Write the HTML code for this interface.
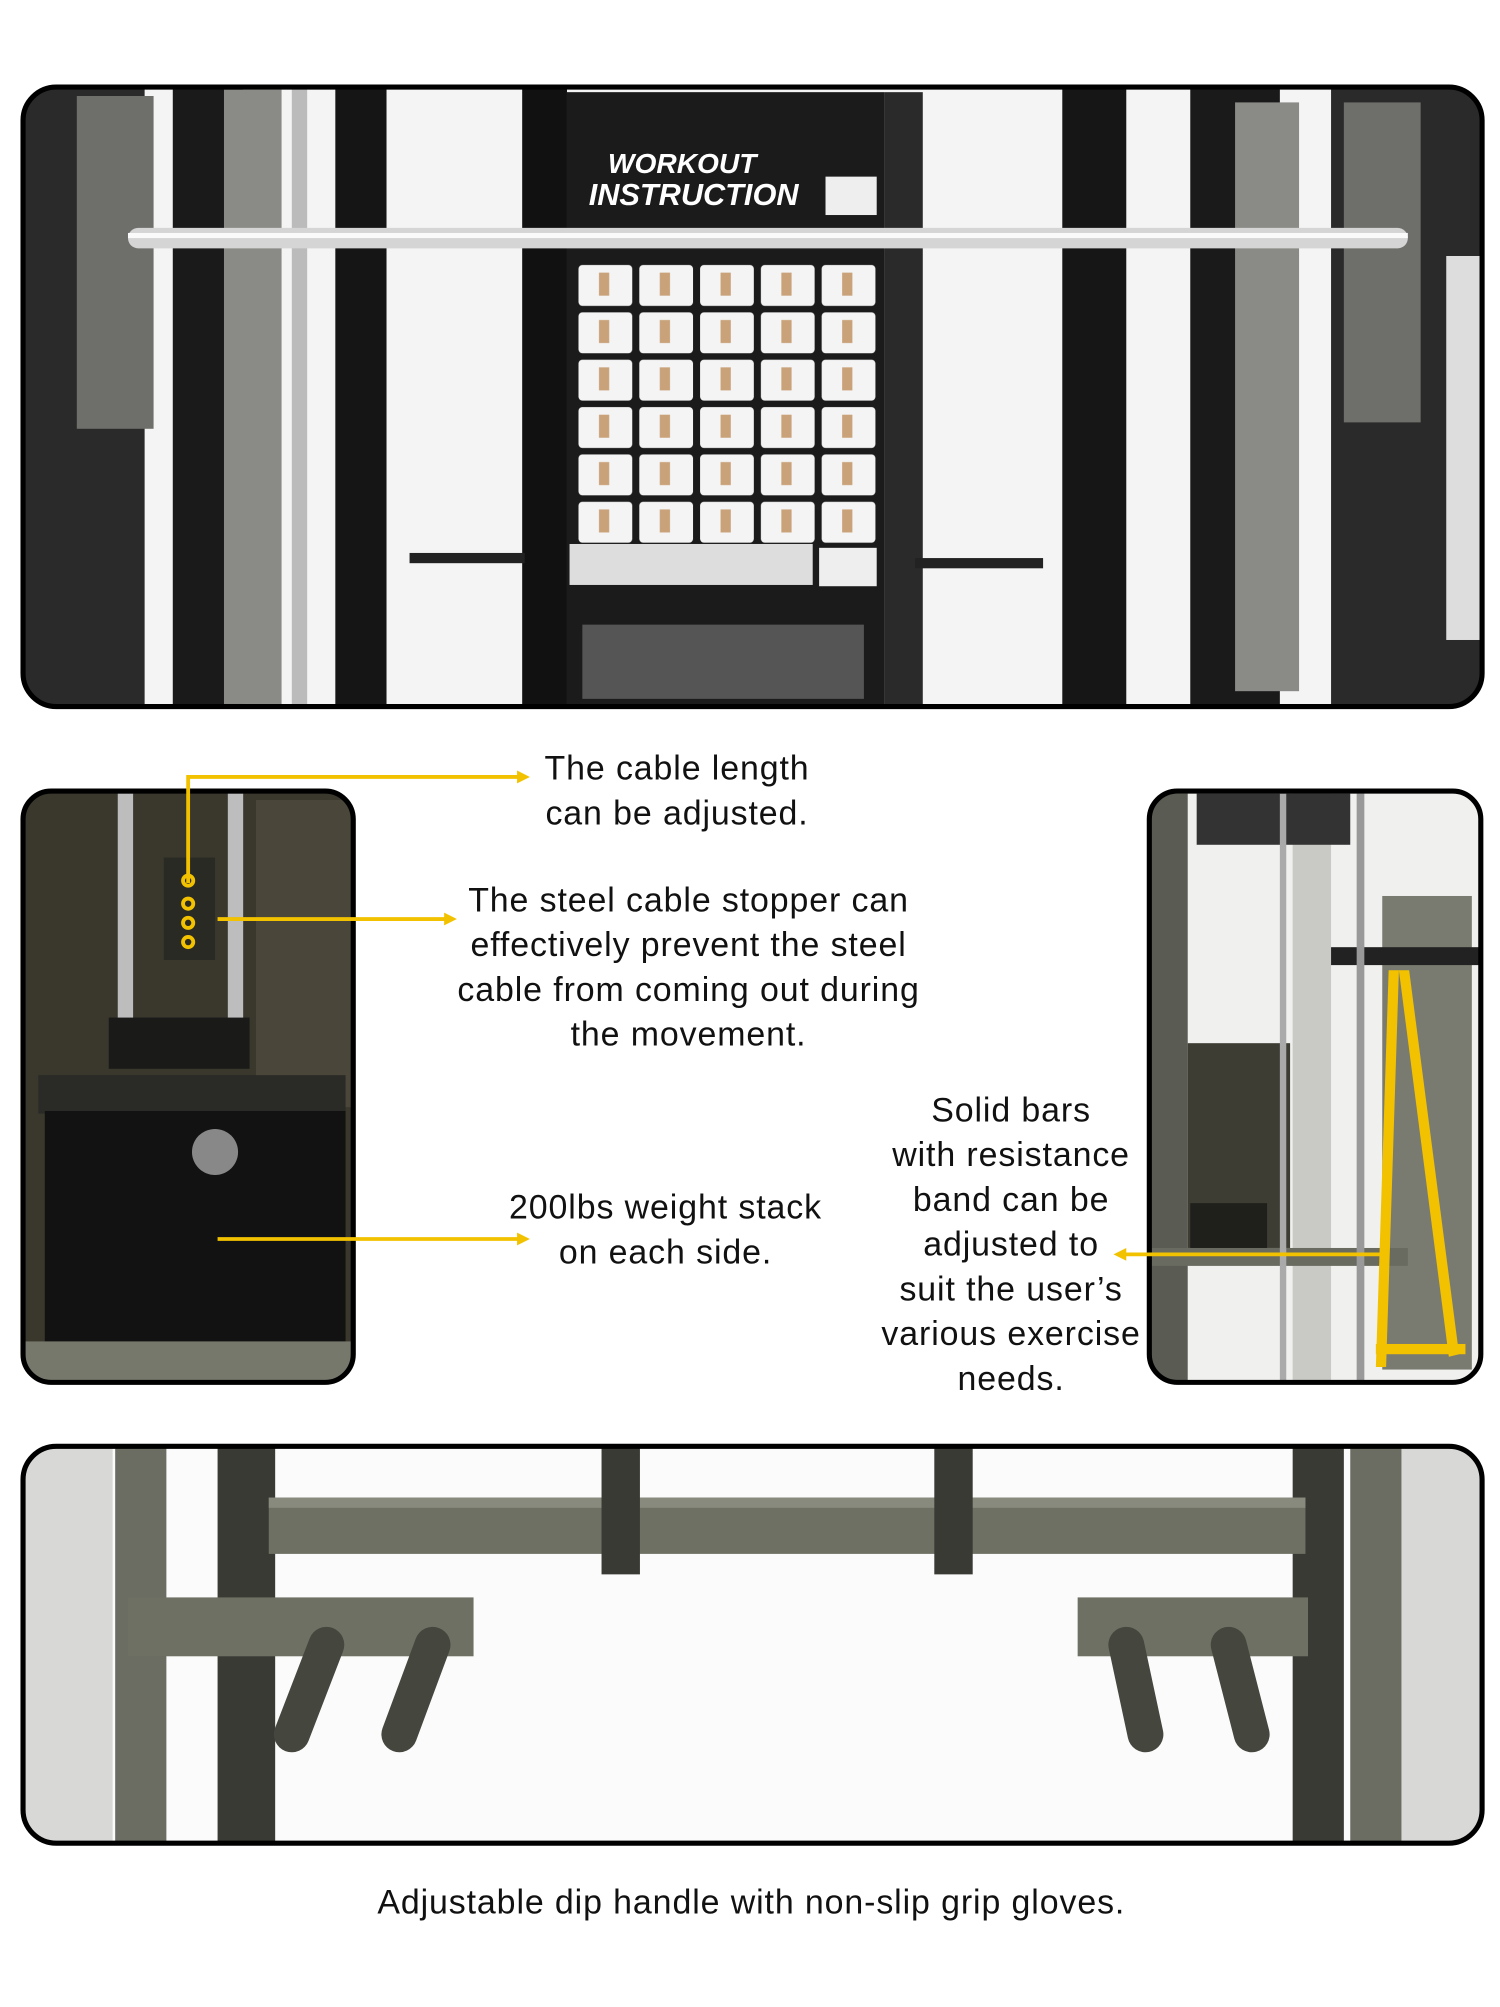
<!DOCTYPE html>
<html><head><meta charset="utf-8"><style>
html,body{margin:0;padding:0;background:#fff;}
svg{display:block;}
text{font-family:"Liberation Sans","DejaVu Sans",sans-serif;fill:#111;}
</style></head><body>
<svg width="1500" height="2007" viewBox="0 0 1172 1568" preserveAspectRatio="none" xmlns="http://www.w3.org/2000/svg">
<defs>
<clipPath id="c1"><rect x="18" y="68" width="1140" height="484" rx="26"/></clipPath>
<clipPath id="c2"><rect x="18" y="618" width="258" height="462" rx="22"/></clipPath>
<clipPath id="c3"><rect x="898" y="618" width="259" height="462" rx="22"/></clipPath>
<clipPath id="c4"><rect x="18" y="1130" width="1140" height="310" rx="26"/></clipPath>
<pattern id="cards" x="450" y="205" width="47.5" height="37" patternUnits="userSpaceOnUse">
<rect x="2" y="2" width="42" height="32" rx="3" fill="#f4f4f4"/>
<rect x="18" y="8" width="8" height="18" fill="#c9a27a"/>
</pattern>
</defs>
<rect width="1172" height="1568" fill="#fff"/>

<!-- TOP PANEL -->
<g clip-path="url(#c1)">
<rect x="18" y="68" width="1140" height="484" fill="#f4f4f4"/>
<rect x="18" y="68" width="95" height="484" fill="#2a2a2a"/>
<rect x="60" y="75" width="60" height="260" fill="#6e6e6a"/>
<rect x="135" y="68" width="55" height="484" fill="#1a1a1a"/>
<rect x="175" y="70" width="45" height="480" fill="#8a8a86"/>
<rect x="228" y="68" width="12" height="484" fill="#bbb"/>
<rect x="262" y="68" width="40" height="484" fill="#151515"/>
<rect x="408" y="68" width="35" height="484" fill="#111"/>
<rect x="443" y="72" width="248" height="480" fill="#1b1b1b"/>
<rect x="450" y="205" width="238" height="222" fill="url(#cards)"/>
<rect x="445" y="425" width="190" height="32" fill="#ddd"/>
<rect x="640" y="428" width="45" height="30" fill="#eee"/>
<rect x="455" y="488" width="220" height="58" fill="#555"/>
<text x="475" y="135" font-size="22" font-weight="bold" font-style="italic" style="fill:#fff">WORKOUT</text>
<text x="460" y="160" font-size="24" font-weight="bold" font-style="italic" style="fill:#fff">INSTRUCTION</text>
<rect x="645" y="138" width="40" height="30" fill="#eee"/>
<rect x="691" y="72" width="30" height="480" fill="#2a2a2a"/>
<rect x="830" y="68" width="50" height="484" fill="#161616"/>
<rect x="930" y="68" width="70" height="484" fill="#1a1a1a"/>
<rect x="965" y="80" width="50" height="460" fill="#8a8a86"/>
<rect x="1040" y="68" width="118" height="484" fill="#2a2a2a"/>
<rect x="1050" y="80" width="60" height="250" fill="#6e6e6a"/>
<rect x="1130" y="200" width="28" height="300" fill="#ddd"/>
<rect x="100" y="178" width="1000" height="16" rx="8" fill="#d5d5d5"/>
<rect x="100" y="182" width="1000" height="4" fill="#fafafa"/>
<rect x="320" y="432" width="90" height="8" fill="#222"/>
<rect x="715" y="436" width="100" height="8" fill="#222"/>
</g>
<rect x="18" y="68" width="1140" height="484" rx="26" fill="none" stroke="#000" stroke-width="4"/>

<!-- MIDDLE LEFT -->
<g clip-path="url(#c2)">
<rect x="18" y="618" width="258" height="462" fill="#3a372c"/>
<rect x="200" y="625" width="76" height="240" fill="#4a463a"/>
<rect x="92" y="620" width="12" height="180" fill="#bdbdbd"/>
<rect x="178" y="620" width="12" height="180" fill="#bdbdbd"/>
<rect x="128" y="670" width="40" height="80" fill="#2a2a25"/>
<rect x="85" y="795" width="110" height="40" fill="#1a1a18"/>
<rect x="30" y="840" width="240" height="30" fill="#2a2a26"/>
<rect x="35" y="868" width="235" height="180" fill="#121212"/>
<circle cx="168" cy="900" r="18" fill="#888"/>
<rect x="18" y="1048" width="258" height="32" fill="#77786c"/>
</g>
<rect x="18" y="618" width="258" height="462" rx="22" fill="none" stroke="#000" stroke-width="4"/>

<!-- MIDDLE RIGHT -->
<g clip-path="url(#c3)">
<rect x="898" y="618" width="259" height="462" fill="#f0f0ee"/>
<rect x="898" y="620" width="30" height="460" fill="#5a5b52"/>
<rect x="1010" y="620" width="30" height="460" fill="#c9c9c5"/>
<rect x="935" y="620" width="120" height="40" fill="#333"/>
<rect x="1080" y="700" width="70" height="370" fill="#7a7b70"/>
<rect x="928" y="815" width="80" height="160" fill="#3e3d33"/>
<rect x="930" y="940" width="60" height="40" fill="#1f1f1b"/>
<rect x="900" y="975" width="200" height="14" fill="#6a6b60"/>
<rect x="1040" y="740" width="117" height="14" fill="#222"/>
<rect x="1000" y="620" width="5" height="460" fill="#aaa"/>
<rect x="1060" y="620" width="6" height="460" fill="#999"/>
<polygon points="1085,758 1093,758 1083,1068 1075,1068" fill="#f2c200"/>
<polygon points="1093,758 1101,758 1140,1058 1132,1060" fill="#f2c200"/>
<rect x="1075" y="1050" width="70" height="8" fill="#f2c200"/>
</g>
<rect x="898" y="618" width="259" height="462" rx="22" fill="none" stroke="#000" stroke-width="4"/>

<!-- BOTTOM -->
<g clip-path="url(#c4)">
<rect x="18" y="1130" width="1140" height="310" fill="#fbfbfb"/>
<rect x="18" y="1130" width="70" height="310" fill="#d8d8d6"/>
<rect x="90" y="1130" width="40" height="310" fill="#6b6c62"/>
<rect x="170" y="1130" width="45" height="310" fill="#3a3a35"/>
<rect x="1095" y="1130" width="63" height="310" fill="#d8d8d6"/>
<rect x="1055" y="1130" width="40" height="310" fill="#6b6c62"/>
<rect x="1010" y="1130" width="40" height="310" fill="#3a3a35"/>
<rect x="210" y="1170" width="810" height="44" fill="#6e7064"/>
<rect x="210" y="1170" width="810" height="8" fill="#888a7e"/>
<rect x="470" y="1130" width="30" height="100" fill="#3a3a35"/>
<rect x="730" y="1130" width="30" height="100" fill="#3a3a35"/>
<rect x="100" y="1248" width="270" height="46" fill="#6e7064"/>
<rect x="842" y="1248" width="180" height="46" fill="#6e7064"/>
<g stroke="#45463e" stroke-width="28" stroke-linecap="round">
<line x1="255" y1="1285" x2="228" y2="1355"/><line x1="338" y1="1285" x2="312" y2="1355"/>
<line x1="880" y1="1285" x2="895" y2="1355"/><line x1="960" y1="1285" x2="978" y2="1355"/>
</g>
</g>
<rect x="18" y="1130" width="1140" height="310" rx="26" fill="none" stroke="#000" stroke-width="4"/>

<!-- ARROWS -->
<g stroke="#f2c200" stroke-width="3" fill="none">
<polyline points="147,690 147,607 406,607"/>
<line x1="170" y1="718" x2="349" y2="718"/>
<line x1="170" y1="968" x2="406" y2="968"/>
<line x1="1080" y1="980" x2="878" y2="980"/>
<circle cx="147" cy="688" r="4"/><circle cx="147" cy="706" r="4"/><circle cx="147" cy="721" r="4"/><circle cx="147" cy="736" r="4"/>
</g>
<g fill="#f2c200">
<polygon points="414,607 404,602 404,612"/>
<polygon points="357,718 347,713 347,723"/>
<polygon points="414,968 404,963 404,973"/>
<polygon points="870,980 880,975 880,985"/>
</g>

<!-- TEXT -->
<g font-size="26.5" text-anchor="middle" letter-spacing="0.7">
<text x="529" y="609">The cable length</text>
<text x="529" y="644">can be adjusted.</text>
<text x="538" y="712">The steel cable stopper can</text>
<text x="538" y="747">effectively prevent the steel</text>
<text x="538" y="782">cable from coming out during</text>
<text x="538" y="817">the movement.</text>
<text x="520" y="952">200lbs weight stack</text>
<text x="520" y="987">on each side.</text>
<text x="790" y="876">Solid bars</text>
<text x="790" y="911">with resistance</text>
<text x="790" y="946">band can be</text>
<text x="790" y="981">adjusted to</text>
<text x="790" y="1016">suit the user’s</text>
<text x="790" y="1051">various exercise</text>
<text x="790" y="1086">needs.</text>
<text x="587" y="1495">Adjustable dip handle with non-slip grip gloves.</text>
</g>
</svg>
</body></html>
